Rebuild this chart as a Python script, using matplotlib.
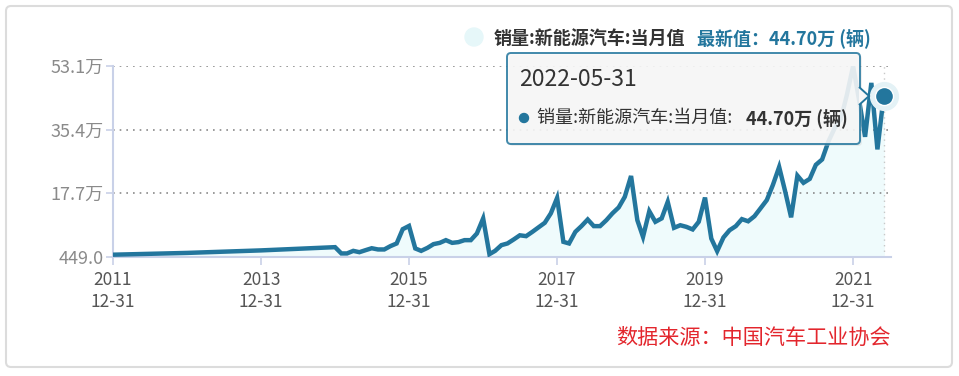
import numpy as np
import pandas as pd
import matplotlib
matplotlib.use('Agg')
import matplotlib.pyplot as plt
from matplotlib.patches import FancyBboxPatch, Circle, Polygon

plt.rcParams['font.family'] = ['Noto Sans CJK SC', 'DejaVu Sans']

# data (万辆)
early_dates = ['2011-12-31', '2012-12-31', '2013-12-31', '2014-12-31']
early_vals = [0.6, 1.1, 1.8, 2.7]

vals_2015 = [0.95, 0.95, 1.67, 1.3, 1.87, 2.4, 2.06, 2.06, 2.98, 3.73, 7.7, 8.6]
vals_2016 = [2.34, 1.67, 2.5, 3.54, 3.9, 4.65, 3.9, 4.1, 4.65, 4.65, 6.5, 10.7]
vals_2017 = [0.75, 1.67, 3.26, 3.73, 4.85, 6.0, 5.76, 6.96, 8.2, 9.47, 12.1, 16.4]
vals_2018 = [4.18, 3.73, 6.96, 8.55, 10.4, 8.55, 8.55, 10.2, 12.1, 13.76, 16.7, 22.5]
vals_2019 = [10.2, 5.57, 12.7, 9.75, 10.7, 15.3, 8.08, 8.8, 8.35, 7.63, 9.75, 16.5]
vals_2020 = [5.1, 1.59, 5.4, 7.4, 8.55, 10.5, 9.9, 11.3, 13.5, 15.8, 20.0, 25.0]
vals_2021 = [17.9, 11.0, 22.6, 20.6, 21.7, 25.6, 27.1, 32.1, 35.7, 38.3, 45.0, 53.1]
vals_2022 = [43.1, 33.4, 48.4, 29.9, 44.7]

y_min = 449.0
y_max = 531000.0
y_labels = ['449.0', '17.7万', '35.4万', '53.1万']
x_tick_dates = ['2011-12-31', '2013-12-31', '2015-12-31', '2017-12-31', '2019-12-31', '2021-12-31']
x_tick_labels = ['2011\n12-31', '2013\n12-31', '2015\n12-31', '2017\n12-31', '2019\n12-31', '2021\n12-31']

monthly = vals_2015 + vals_2016 + vals_2017 + vals_2018 + vals_2019 + vals_2020 + vals_2021 + vals_2022
monthly_dates = pd.date_range('2015-01-31', periods=len(monthly), freq='ME')
dates = pd.to_datetime(early_dates).append(monthly_dates)
values = np.array(early_vals + monthly) * 1e4

line_c = '#23769d'
W, H = 959, 376

fig = plt.figure(figsize=(W / 100, H / 100), dpi=100)

# background layer (pixel coords) with the card
bg = fig.add_axes([0, 0, 1, 1], zorder=0)
bg.set_xlim(0, W)
bg.set_ylim(H, 0)
bg.axis('off')
bg.add_patch(FancyBboxPatch((6, 6), 946, 361, boxstyle='round,pad=0,rounding_size=5',
                            facecolor='white', edgecolor='#dcdcdc', lw=1.5))

ax = fig.add_axes([113 / W, 1 - 256.7 / H, (891 - 113) / W, (256.7 - 66) / H], zorder=1)
ax.set_facecolor('none')

ax.fill_between(dates, values, y_min, color='#effbfc', zorder=1)
ax.plot(dates, values, color=line_c, lw=3.2, solid_joinstyle='miter', zorder=3)

last_d = dates[-1]
ax.axvline(last_d, color='#c8c8c8', lw=1, ls=(0, (1, 3)), zorder=2)
ax.plot([last_d], [values[-1]], 'o', ms=20, color='#e4f2f6', zorder=4, clip_on=False)
ax.plot([last_d], [values[-1]], 'o', ms=13, color=line_c, mec='white', mew=1, zorder=5, clip_on=False)

ax.set_ylim(y_min, y_max)
ax.set_xlim(pd.Timestamp('2011-12-31'), pd.Timestamp('2022-07-06'))

yt = np.linspace(y_min, y_max, 4)
ax.set_yticks(yt)
ax.set_yticklabels(y_labels)
for v in yt[1:]:
    ax.axhline(v, color='#8a8a8a', lw=1.2, ls=(0, (1, 3)), zorder=2)

ax.set_xticks(pd.to_datetime(x_tick_dates))
ax.set_xticklabels(x_tick_labels, linespacing=1.35)

for s in ['top', 'right']:
    ax.spines[s].set_visible(False)
ax.spines['left'].set_color('#c9d1e8')
ax.spines['left'].set_linewidth(1.5)
ax.spines['bottom'].set_color('#c9d1e8')
ax.spines['bottom'].set_linewidth(1.5)
ax.spines['bottom'].set_linestyle((0, (3, 1)))
ax.tick_params(axis='y', length=5, color='#c9d1e8', width=1.2, pad=2, labelsize=13, labelcolor='#8a8a8a')
ax.tick_params(axis='x', length=6, color='#c9d1e8', width=1.2, pad=4, labelsize=12.5, labelcolor='#555555')

# overlay layer (pixel coords): legend, tooltip, source
ov = fig.add_axes([0, 0, 1, 1], zorder=2)
ov.set_xlim(0, W)
ov.set_ylim(H, 0)
ov.axis('off')
ov.patch.set_alpha(0)

ov.add_patch(Circle((474, 37), 9, color='#e6f7f9'))
ov.text(494, 38, '销量:新能源汽车:当月值', fontsize=13, fontweight='bold', color='#333333',
        ha='left', va='center')
ov.text(871, 38, '最新值：44.70万 (辆)', fontsize=13, fontweight='bold', color=line_c,
        ha='right', va='center')

ov.add_patch(FancyBboxPatch((509, 55), 353, 91, boxstyle='round,pad=0,rounding_size=4',
                            facecolor='#cfcfcf', edgecolor='none', alpha=0.35))
ov.add_patch(FancyBboxPatch((507, 53), 353, 91, boxstyle='round,pad=0,rounding_size=4',
                            facecolor='#f8f8f8', edgecolor=line_c, lw=1.4, alpha=0.86))
ov.add_patch(Polygon([(859, 87), (869, 96), (859, 105)], closed=False,
                     facecolor='#f8f8f8', edgecolor=line_c, lw=1.4))
ov.text(519, 79, '2022-05-31', fontsize=16.5, color='#333333', ha='left', va='center')
ov.add_patch(Circle((524, 118), 4.5, color=line_c))
ov.text(537, 118, '销量:新能源汽车:当月值: ', fontsize=13, color='#333333', ha='left', va='center')
ov.text(848, 118, '44.70万 (辆)', fontsize=13, fontweight='bold', color='#333333', ha='right',
        va='center')

ov.text(891, 338, '数据来源：中国汽车工业协会', fontsize=15.2, color='#e3262d', ha='right', va='center')

fig.savefig('out.png', dpi=100)
